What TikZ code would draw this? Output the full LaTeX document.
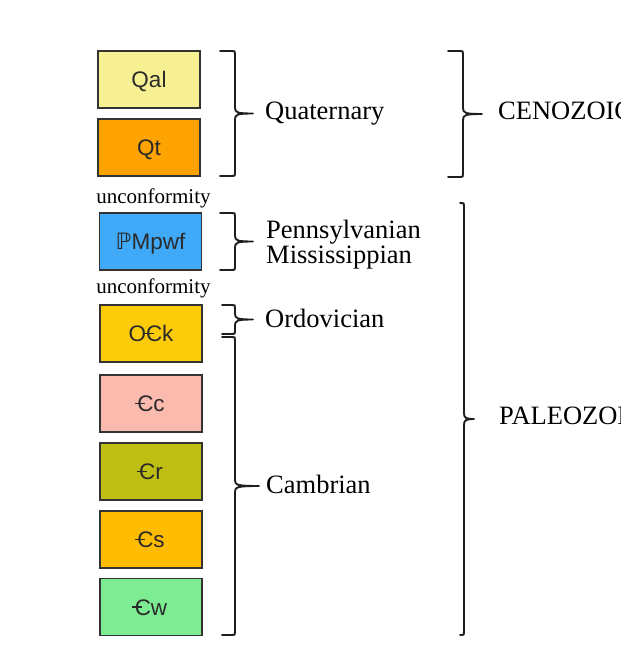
\documentclass[tikz,border=0pt]{standalone}
\usepackage{fontspec}
\setmainfont{Liberation Serif}
\newfontfamily\boxfont{Liberation Sans}
\newfontfamily\dejavu{DejaVu Sans}
\definecolor{cQal}{HTML}{F7F194}
\definecolor{cQt}{HTML}{FFA300}
\definecolor{cPM}{HTML}{40AAF8}
\definecolor{cOCk}{HTML}{FCCB0A}
\definecolor{cCc}{HTML}{FABBAE}
\definecolor{cCr}{HTML}{BEBE13}
\definecolor{cCs}{HTML}{FFBC00}
\definecolor{cCw}{HTML}{7DEC93}
\definecolor{edge}{HTML}{333333}
\definecolor{ink}{HTML}{1E1E1E}
\definecolor{lbl}{HTML}{2A2A2A}
\newcommand\camb{\makebox[0pt][l]{\kern-0.11em\rule[0.33em]{0.45em}{0.06em}}C}
\tikzset{
  unitbox/.style={draw=edge, line width=1.3pt, minimum width=102pt, minimum height=57pt,
    inner sep=0pt, text height=16.1pt, text depth=0pt,
    font=\boxfont\fontsize{22.5}{24}\selectfont, text=lbl},
  bracestyle/.style={draw=ink, line width=1.9pt, line cap=round, line join=round},
  era/.style={font=\fontsize{26.5}{24.5}\selectfont, anchor=base west, inner sep=0pt, text=black, align=left},
  unconf/.style={font=\fontsize{21}{24}\selectfont, inner sep=0pt, text=black, anchor=base}
}
\newcommand\geobrace[5]{% left x, vertical x, top y, bottom y, tip x
  \draw[bracestyle] (#1,#3) -- ({#2-3},#3) .. controls (#2,#3) .. (#2,{#3+3})
    -- (#2,{(#3+#4)/2-6}) .. controls (#2,{(#3+#4)/2-1}) and ({#2+2},{(#3+#4)/2}) .. (#5,{(#3+#4)/2})
    .. controls ({#2+2},{(#3+#4)/2}) and (#2,{(#3+#4)/2+1}) .. (#2,{(#3+#4)/2+6})
    -- (#2,{#4-3}) .. controls (#2,#4) .. ({#2-3},#4) -- (#1,#4);}
\begin{document}
\begin{tikzpicture}[x=1pt,y=-1pt]
\clip (0,0) rectangle (621,670);
\fill[white] (0,0) rectangle (621,670);
% units
\node[unitbox, fill=cQal] (qal) at (149,79.5) {Qal};
\node[unitbox, fill=cQt] (qt) at (149,147.5) {Qt};
\node[unconf] (u1) at (153.5,203) {unconformity};
\node[unitbox, fill=cPM] (pm) at (150.5,241.5) {{\dejavu ℙ}Mpwf};
\node[unconf] (u2) at (153.5,293) {unconformity};
\node[unitbox, fill=cOCk] (ock) at (151,333.5) {O\camb k};
\node[unitbox, fill=cCc] (cc) at (151,403.5) {\camb c};
\node[unitbox, fill=cCr] (cr) at (151,471.5) {\camb r};
\node[unitbox, fill=cCs] (cs) at (151,539.5) {\camb s};
\node[unitbox, fill=cCw] (cw) at (151,607) {\camb w};
% period braces
\geobrace{220}{235}{51}{176}{253}
\geobrace{220}{235}{213}{270}{253}
\geobrace{222}{235}{305}{334}{253}
\geobrace{222}{235}{337}{635}{259}
% era braces
\geobrace{448}{463}{51}{177}{482}
\geobrace{460}{464}{203}{635}{474}
% labels
\node[era] (quat) at (265,119) {Quaternary};
\node[era] (penn) at (266,238.5) {Pennsylvanian};
\node[era] (miss) at (266,263) {Mississippian};
\node[era] (ordo) at (265,327) {Ordovician};
\node[era] (camb) at (266,493) {Cambrian};
\node[era] (ceno) at (498,119) {CENOZOIC};
\node[era] (paleo) at (499,424) {PALEOZOIC};
\end{tikzpicture}
\end{document}
